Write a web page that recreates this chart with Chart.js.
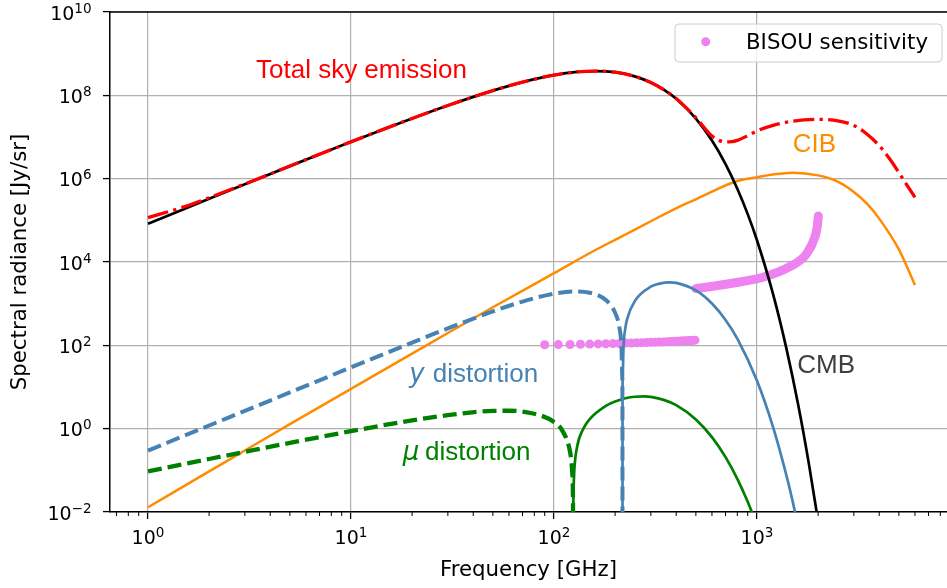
<!DOCTYPE html>
<html>
<head>
<meta charset="utf-8">
<title>Sky emission and spectral distortions</title>
<script src="https://cdn.jsdelivr.net/npm/chart.js@4.4.1/dist/chart.umd.min.js"></script>
<style>
  html, body { margin: 0; padding: 0; background: #fff; overflow: hidden; }
  canvas { display: block; }
</style>
</head>
<body>
<canvas id="skyChart" width="947" height="588"></canvas>
<script>
// frequency in GHz, spectral radiance in Jy/sr
const cmbFreq = [1, 2, 3, 5, 7, 10, 20, 30, 50, 70, 100, 130, 160, 200, 250, 300, 350, 400, 500, 600, 700, 800, 900, 1000, 1200, 1400, 1600, 1800, 2000];
const cmbVals = [8.29e4, 3.29e5, 7.33e5, 2.0e6, 3.85e6, 7.65e6, 2.79e7, 5.71e7, 1.30e8, 2.08e8, 3.06e8, 3.65e8, 3.83e8, 3.59e8, 2.85e8, 2.03e8, 1.33e8, 8.24e7, 2.77e7, 8.2e6, 2.24e6, 5.75e5, 1.41e5, 3.32e4, 1.69e3, 79, 3.5, 0.147, 0.006];

const totalFreq = [1, 1.5, 2, 3, 5, 7, 10, 20, 30, 50, 70, 100, 130, 160, 200, 250, 300, 350, 400, 500, 600, 650, 700, 750, 800, 900, 1000, 1200, 1500, 2000, 2500, 3000, 3500, 4000, 4500, 5000, 5500, 6000];
const totalVals = [1.16e5, 2.1e5, 3.48e5, 7.46e5, 2.01e6, 3.85e6, 7.65e6, 2.79e7, 5.71e7, 1.30e8, 2.08e8, 3.06e8, 3.65e8, 3.83e8, 3.59e8, 2.86e8, 2.04e8, 1.34e8, 8.4e7, 2.9e7, 1.05e7, 8.3e6, 7.6e6, 7.7e6, 8.3e6, 1.08e7, 1.4e7, 1.9e7, 2.4e7, 2.65e7, 2.45e7, 1.9e7, 1.15e7, 6.2e6, 3.0e6, 1.4e6, 6.8e5, 3.56e5];

const cibFreq = [1, 2, 3, 5, 10, 20, 30, 50, 100, 160, 200, 300, 420, 500, 600, 780, 1000, 1200, 1500, 2000, 2500, 3000, 3500, 4000, 5000, 6000];
const cibVals = [0.013, 0.094, 0.30, 1.28, 9.0, 63, 198, 820, 5.4e3, 1.94e4, 3.4e4, 9.5e4, 2.2e5, 3.2e5, 4.9e5, 8.45e5, 1.08e6, 1.26e6, 1.39e6, 1.2e6, 8.5e5, 4.8e5, 2.45e5, 1.1e5, 2.0e4, 2.8e3];

// y distortion: |negative| part below the null, positive part above it
const yNegFreq = [1, 2, 3, 5, 10, 20, 30, 50, 70, 100, 125, 150, 180, 200, 210, 215, 217, 217.4, 217.45];
const yNegVals = [0.297, 1.19, 2.67, 7.40, 29.5, 116, 255, 651, 1124, 1737, 1964, 1832, 1220, 608, 266, 89, 17.5, 3.3, 0.001];
const yPosFreq = [217.55, 217.6, 218, 220, 225, 230, 250, 300, 350, 370, 400, 500, 600, 700, 800, 1000, 1200, 1400, 1500, 1600];
const yPosVals = [0.001, 4.0, 18.2, 90, 270, 450, 1153, 2553, 3192, 3240, 3146, 2076, 1007, 407, 145, 14.1, 1.09, 0.072, 0.0176, 0.0042];

// mu distortion
const muNegFreq = [1, 2, 3, 5, 10, 20, 30, 50, 60, 70, 100, 110, 120, 122, 123, 124, 124.3];
const muNegVals = [0.0943, 0.187, 0.278, 0.456, 0.872, 1.58, 2.11, 2.67, 2.69, 2.57, 1.45, 0.892, 0.279, 0.152, 0.088, 0.0235, 0.001];
const muPosFreq = [124.45, 124.6, 125, 126, 130, 140, 150, 180, 200, 250, 280, 300, 350, 400, 500, 600, 700, 800, 900, 1000];
const muPosVals = [0.001, 0.0157, 0.0416, 0.107, 0.369, 1.03, 1.70, 3.52, 4.50, 5.84, 5.94, 5.77, 4.85, 3.66, 1.67, 0.627, 0.207, 0.0625, 0.0176, 0.0047];

// BISOU sensitivity, two bands
const bisouLowFreq = [90, 105, 120, 135, 150, 165, 180, 195, 210, 225, 240, 255, 270, 285, 300, 315, 330, 345, 360, 375, 390, 405, 420, 435, 450, 465, 480, 495];
const bisouLowVals = [103, 104, 105, 106, 107, 108, 109, 110, 111, 113, 114, 115, 116, 117, 118, 119, 120, 121, 122, 124, 125, 126, 127, 128, 129, 130, 131, 133];
const bisouHighFreq = [500, 740, 1070, 1450, 1760, 1930, 1980, 2005];
const bisouHighVals = [2300, 3050, 4300, 7700, 16000, 40000, 70000, 127000];

// axis ranges and ticks (powers of ten); the right edge of the plot is cropped
const xMin = 0.6499, xMax = 8630;
const yMin = 1e-2, yMax = 1e10;
const xTickExps = [0, 1, 2, 3];
const yTickExps = [-2, 0, 2, 4, 6, 8, 10];
const xMinorMult = [2, 3, 4, 5, 6, 7, 8, 9];

Chart.defaults.font.family = "'DejaVu Sans', sans-serif";
Chart.defaults.color = '#000';

function pts(freqs, vals) {
    return freqs.map((f, i) => ({x: f, y: vals[i]}));
}

function curve(label, freqs, vals, color, width, dash) {
    return {
        label: label,
        data: pts(freqs, vals),
        borderColor: color,
        backgroundColor: color,
        borderWidth: width,
        borderDash: dash || [],
        pointRadius: 0,
        fill: false,
        cubicInterpolationMode: 'monotone',
        capBezierPoints: false,
        clip: 0
    };
}

function drawPower(ctx, exp, x, baseY, align) {
    const base = '10';
    const sup = String(exp).replace('-', '\u2212');
    ctx.font = '19px "DejaVu Sans"';
    const w1 = ctx.measureText(base).width;
    ctx.font = '13.5px "DejaVu Sans"';
    const w2 = ctx.measureText(sup).width;
    const left = align === 'right' ? x - w1 - w2 : x - (w1 + w2) / 2;
    ctx.textAlign = 'left';
    ctx.textBaseline = 'alphabetic';
    ctx.font = '19px "DejaVu Sans"';
    ctx.fillText(base, left, baseY);
    ctx.font = '13.5px "DejaVu Sans"';
    ctx.fillText(sup, left + w1, baseY - 6.7);
}

const decorPlugin = {
    id: 'decor',
    afterDatasetsDraw(chart) {
        const {ctx, chartArea: area, scales} = chart;
        const xs = scales.x, ys = scales.y;
        ctx.save();

        // top spine
        ctx.strokeStyle = '#000';
        ctx.lineWidth = 1.5;
        ctx.beginPath();
        ctx.moveTo(area.left, area.top);
        ctx.lineTo(area.right, area.top);
        ctx.stroke();

        // minor ticks on the frequency axis
        ctx.lineWidth = 1;
        for (let e = -1; e <= 3; e++) {
            xMinorMult.forEach(m => {
                const px = xs.getPixelForValue(m * Math.pow(10, e));
                if (px <= area.left || px >= area.right) return;
                ctx.beginPath();
                ctx.moveTo(px, area.bottom);
                ctx.lineTo(px, area.bottom + 4);
                ctx.stroke();
            });
        }

        // tick labels
        ctx.fillStyle = '#000';
        xTickExps.forEach(e => drawPower(ctx, e, xs.getPixelForValue(Math.pow(10, e)), 544, 'center'));
        yTickExps.forEach(e => drawPower(ctx, e, 91.5, ys.getPixelForValue(Math.pow(10, e)) + 7.5, 'right'));

        // curve annotations
        ctx.textAlign = 'left';
        ctx.textBaseline = 'alphabetic';
        ctx.font = '26px "Liberation Sans"';
        ctx.fillStyle = 'red';
        ctx.fillText('Total sky emission', 256, 77.7);
        ctx.fillStyle = 'darkorange';
        ctx.fillText('CIB', 792.7, 151.7);
        ctx.fillStyle = '#3f3f3f';
        ctx.fillText('CMB', 797.3, 373.3);

        ctx.fillStyle = 'steelblue';
        ctx.font = 'italic 26px "DejaVu Sans"';
        ctx.fillText('y', 409.3, 381.7);
        ctx.font = '26px "Liberation Sans"';
        ctx.fillText('distortion', 432.7, 381.7);

        ctx.fillStyle = 'green';
        ctx.font = 'italic 26px "DejaVu Sans"';
        ctx.fillText('\u03bc', 402.7, 460);
        ctx.font = '26px "Liberation Sans"';
        ctx.fillText('distortion', 425, 460);

        ctx.restore();
    },
    afterDraw(chart) {
        const ctx = chart.ctx;
        const ds = chart.data.datasets.find(d => d.label === 'BISOU sensitivity');
        ctx.save();
        ctx.beginPath();
        ctx.roundRect(675, 24, 267, 38, 4);
        ctx.fillStyle = 'rgba(255,255,255,0.8)';
        ctx.fill();
        ctx.strokeStyle = '#cccccc';
        ctx.lineWidth = 1;
        ctx.stroke();

        ctx.beginPath();
        ctx.arc(705.7, 41.7, 4.5, 0, Math.PI * 2);
        ctx.fillStyle = ds.pointBackgroundColor;
        ctx.fill();

        ctx.fillStyle = '#000';
        ctx.font = '21.3px "DejaVu Sans"';
        ctx.textAlign = 'left';
        ctx.textBaseline = 'alphabetic';
        ctx.fillText(ds.label, 746, 49.3);
        ctx.restore();
    }
};

const bisouHigh = curve('BISOU high band', bisouHighFreq, bisouHighVals, 'violet', 9);
bisouHigh.borderCapStyle = 'round';
bisouHigh.borderJoinStyle = 'round';

new Chart(document.getElementById('skyChart').getContext('2d'), {
    type: 'line',
    data: {
        datasets: [
            curve('Total sky emission', totalFreq, totalVals, 'red', 3.3, [21, 5.3, 3.3, 5.3]),
            curve('CMB', cmbFreq, cmbVals, 'black', 2.7),
            curve('y distortion (negative)', yNegFreq, yNegVals, 'steelblue', 4, [14, 6]),
            curve('y distortion', yPosFreq, yPosVals, 'steelblue', 2.7),
            {
                label: 'BISOU sensitivity',
                data: pts(bisouLowFreq, bisouLowVals),
                showLine: false,
                pointRadius: 4.5,
                pointBorderWidth: 0,
                pointBackgroundColor: 'violet',
                borderColor: 'violet',
                backgroundColor: 'violet',
                clip: 0
            },
            bisouHigh,
            curve('mu distortion (negative)', muNegFreq, muNegVals, 'green', 4.3, [14, 6]),
            curve('mu distortion', muPosFreq, muPosVals, 'green', 2.7),
            curve('CIB', cibFreq, cibVals, 'darkorange', 2.5)
        ]
    },
    options: {
        responsive: false,
        animation: false,
        events: [],
        layout: {autoPadding: false, padding: {top: 12, left: 0, right: 0, bottom: 0}},
        plugins: {
            legend: {display: false},
            tooltip: {enabled: false}
        },
        scales: {
            x: {
                type: 'logarithmic',
                bounds: 'data',
                min: xMin,
                max: xMax,
                afterBuildTicks: s => {
                    s.ticks = xTickExps.map(e => ({value: Math.pow(10, e)}));
                    s.min = xMin;
                    s.max = xMax;
                },
                afterFit: s => { s.height = 76; },
                ticks: {display: false},
                grid: {color: '#b0b0b0', lineWidth: 1.2, drawTicks: true, tickLength: 7, tickColor: '#000', tickWidth: 1.3},
                border: {display: true, color: '#000', width: 1.5},
                title: {
                    display: true,
                    text: 'Frequency [GHz]',
                    color: '#000',
                    font: {family: 'DejaVu Sans', size: 21.3},
                    padding: {top: 0, bottom: 5}
                }
            },
            y: {
                type: 'logarithmic',
                bounds: 'data',
                min: yMin,
                max: yMax,
                afterBuildTicks: s => {
                    s.ticks = yTickExps.map(e => ({value: Math.pow(10, e)}));
                    s.min = yMin;
                    s.max = yMax;
                },
                afterFit: s => { s.width = 110; },
                ticks: {display: false},
                grid: {color: '#b0b0b0', lineWidth: 1.2, drawTicks: true, tickLength: 7, tickColor: '#000', tickWidth: 1.3},
                border: {display: true, color: '#000', width: 1.5},
                title: {
                    display: true,
                    text: 'Spectral radiance [Jy/sr]',
                    color: '#000',
                    font: {family: 'DejaVu Sans', size: 21.3},
                    padding: {top: 8, bottom: 0}
                }
            }
        }
    },
    plugins: [decorPlugin]
});
</script>
</body>
</html>
